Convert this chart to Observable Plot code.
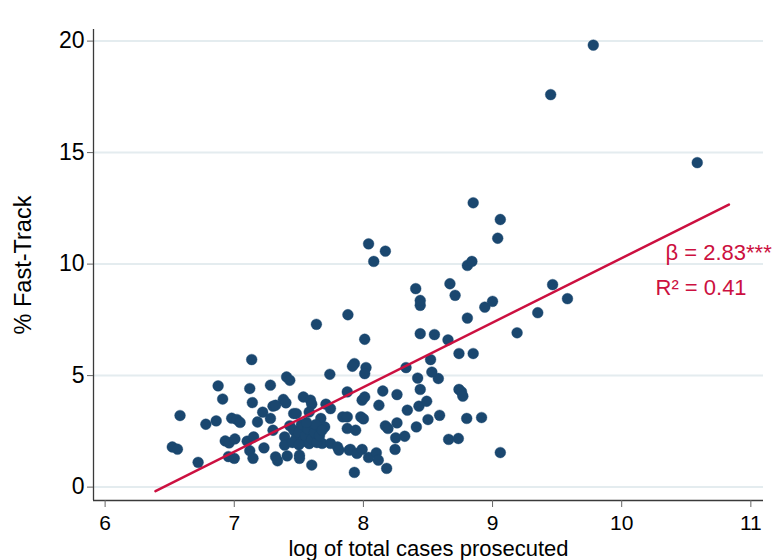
<!DOCTYPE html>
<html><head><meta charset="utf-8">
<script src="https://cdn.jsdelivr.net/npm/d3@7"></script>
<script src="https://cdn.jsdelivr.net/npm/@observablehq/plot@0.6"></script>
<style>
html,body{margin:0;padding:0;background:#fff;overflow:hidden;}
</style>
</head><body><div id="chart"></div>
<script>
// log of total cases prosecuted
const logCases = [
  6.52, 6.56, 6.58, 6.72, 6.78, 6.86, 6.875, 6.91, 6.93, 6.96,
  6.955, 6.98, 7.005, 7.02, 7.045, 7.00, 7.10, 7.12, 7.135, 7.14,
  7.15, 7.12, 7.145, 7.18, 7.23, 7.22, 7.28, 7.28, 7.30, 7.32,
  7.30, 7.32, 7.335, 7.38, 7.40, 7.405, 7.43, 7.41, 7.39, 7.39,
  7.46, 7.48, 7.505, 7.505, 7.535, 7.59, 7.60, 7.60, 7.58, 7.74,
  7.636, 7.71, 7.745, 7.875, 7.84, 7.875, 7.67, 7.70, 7.875, 7.68,
  7.745, 7.80, 7.81, 7.89, 7.94, 7.98,
  7.43, 7.46, 7.48, 7.50, 7.52, 7.53, 7.55, 7.57, 7.58, 7.60,
  7.62, 7.63, 7.64, 7.66, 7.45, 7.50, 7.56, 7.68,
  7.93, 7.90, 7.95, 7.99, 8.04, 8.10, 8.115, 8.18, 8.245, 8.25,
  8.32, 8.66, 8.735, 9.06, 8.17, 8.19, 8.26, 8.41, 8.50, 8.59,
  8.80, 8.915, 8.34, 8.43, 8.49, 8.12, 7.99, 8.01, 8.15, 8.26,
  8.44, 8.74, 8.76, 8.77, 8.42, 8.58, 8.53, 8.52, 8.33, 8.02,
  8.01, 7.93, 7.915, 8.74, 8.85, 8.01, 8.44, 8.55, 8.655, 9.19,
  7.88, 9.35, 8.805, 8.94, 9.00, 8.44, 8.44, 8.71, 8.405, 8.67,
  9.465, 9.58, 8.08, 8.04, 8.17, 8.805, 8.84, 9.04, 9.06, 8.85,
  10.585, 9.45, 9.78, 8.00
];
// % Fast-Track
const pctFastTrack = [
  1.80, 1.70, 3.21, 1.11, 2.82, 2.97, 4.54, 3.95, 2.07, 1.98,
  1.37, 3.09, 2.16, 3.03, 2.90, 1.29, 2.06, 4.42, 5.72, 3.79,
  2.25, 1.63, 1.29, 2.92, 1.76, 3.36, 4.57, 3.08, 3.63, 3.67,
  2.55, 1.36, 1.18, 3.93, 3.78, 4.94, 4.79, 1.40, 2.25, 1.88,
  3.30, 3.30, 1.43, 1.29, 4.04, 3.90, 3.72, 0.99, 3.37, 5.06,
  7.30, 3.72, 3.52, 4.27, 3.15, 3.15, 3.08, 2.70, 2.63, 1.96,
  1.96, 1.80, 1.66, 1.66, 2.55, 3.15,
  2.75, 2.55, 2.20, 2.45, 2.80, 2.05, 2.30, 2.60, 1.95, 2.15,
  2.45, 2.80, 2.00, 2.30, 2.00, 1.90, 2.90, 2.55,
  0.66, 1.69, 1.51, 1.69, 1.33, 1.54, 1.21, 0.84, 1.69, 2.21,
  2.28, 2.14, 2.18, 1.55, 2.75, 2.63, 2.88, 2.70, 3.03, 3.22,
  3.08, 3.12, 3.45, 3.63, 3.85, 3.67, 3.90, 4.04, 4.31, 4.15,
  4.38, 4.38, 4.27, 4.08, 4.89, 4.87, 5.16, 5.72, 5.36, 5.36,
  5.09, 5.54, 5.42, 5.99, 5.99, 6.63, 6.88, 6.84, 6.60, 6.92,
  7.73, 7.82, 7.58, 8.07, 8.33, 8.15, 8.37, 8.60, 8.90, 9.12,
  9.08, 8.45, 10.12, 10.91, 10.58, 9.94, 10.12, 11.16, 12.00, 12.75,
  14.55, 17.60, 19.82, 3.06
];
// fitted regression line endpoints
const fitX = [6.39, 10.83];
const fitY = [-0.18, 12.67];

const xTicks = [6, 7, 8, 9, 10, 11];
const yTicks = [0, 5, 10, 15, 20];
const xDomain = [5.91, 11.098];
const yDomain = [-0.6, 20.52];
const xTitle = ["log of total cases prosecuted"];
const yTitle = ["% Fast-Track"];
const betaLabel = ["β = 2.83***"];
const r2Label = ["R² = 0.41"];

const points = logCases.map((x, i) => ({x, y: pctFastTrack[i]}));
const fit = fitX.map((x, i) => ({x, y: fitY[i]}));
const red = "#cc1040";
const fmt = d3.format("d");

const chart = Plot.plot({
  width: 779,
  height: 560,
  marginLeft: 93,
  marginRight: 16,
  marginTop: 29,
  marginBottom: 60,
  style: {fontFamily: "'Liberation Sans', Arial, sans-serif", background: "#fff", color: "#000"},
  x: {domain: xDomain},
  y: {domain: yDomain},
  marks: [
    Plot.gridY(yTicks, {stroke: "#e4ecef", strokeOpacity: 1, strokeWidth: 2}),
    Plot.ruleX([xDomain[0]], {stroke: "#3a3a3a", strokeWidth: 1.3}),
    Plot.ruleY([yDomain[0]], {stroke: "#3a3a3a", strokeWidth: 1.3}),
    Plot.axisX(xTicks, {tickSize: 7, tickPadding: 8, fontSize: 21, stroke: "#666", fill: "#000", label: null, tickFormat: fmt}),
    Plot.axisY(yTicks, {tickSize: 6, tickPadding: 3, fontSize: 23, stroke: "#666", fill: "#000", label: null, tickFormat: fmt}),
    Plot.dot(points, {x: "x", y: "y", r: 5.4, fill: "#1a476f", stroke: "#1a476f", strokeWidth: 0.4}),
    Plot.line(fit, {x: "x", y: "y", stroke: red, strokeWidth: 2.5}),
    Plot.text(xTitle, {text: d => d, frameAnchor: "bottom", textAnchor: "middle", lineAnchor: "top", dy: 39.4, fontSize: 22, fill: "#000"}),
    Plot.text(yTitle, {text: d => d, frameAnchor: "left", textAnchor: "middle", rotate: -90, dx: -70, fontSize: 23.5, fill: "#000"}),
    Plot.text(betaLabel, {text: d => d, frameAnchor: "top-right", textAnchor: "start", lineAnchor: "top", dx: -98, dy: 215, fontSize: 22, fill: red}),
    Plot.text(r2Label, {text: d => d, frameAnchor: "top-right", textAnchor: "start", lineAnchor: "top", dx: -108, dy: 250, fontSize: 22, fill: red})
  ]
});
document.getElementById("chart").appendChild(chart);
</script>
</body></html>
